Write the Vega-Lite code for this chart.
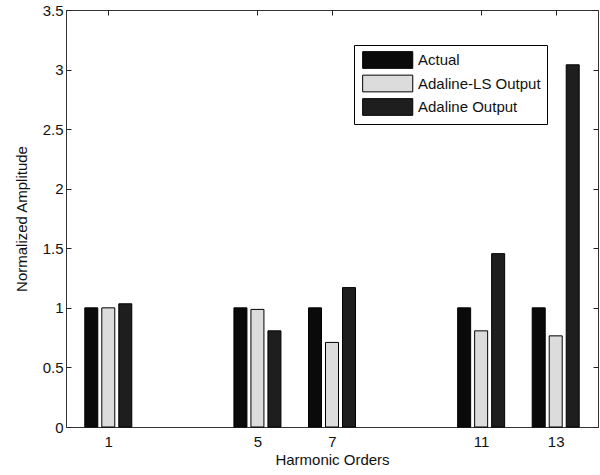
{
  "$schema": "https://vega.github.io/schema/vega-lite/v6.json",
  "width": 532,
  "height": 417,
  "autosize": "none",
  "padding": {"left": 66, "top": 10, "right": 2, "bottom": 48},
  "background": "white",
  "config": {
    "font": "Liberation Sans",
    "view": {"stroke": "#333", "strokeWidth": 1},
    "axis": {"grid": false, "domain": false, "tickColor": "#222", "tickSize": -5, "labelFont": "Liberation Sans", "labelFontSize": 15, "labelColor": "#111", "titleFont": "Liberation Sans", "titleFontSize": 15, "titleFontWeight": "normal", "titleColor": "#111"}
  },
  "data": {"values": [
    {"order": 1, "series": "Actual", "amp": 1.0},
    {"order": 5, "series": "Actual", "amp": 1.0},
    {"order": 7, "series": "Actual", "amp": 1.0},
    {"order": 11, "series": "Actual", "amp": 1.0},
    {"order": 13, "series": "Actual", "amp": 1.0},
    {"order": 1, "series": "Adaline-LS Output", "amp": 1.0},
    {"order": 5, "series": "Adaline-LS Output", "amp": 0.987},
    {"order": 7, "series": "Adaline-LS Output", "amp": 0.71},
    {"order": 11, "series": "Adaline-LS Output", "amp": 0.807},
    {"order": 13, "series": "Adaline-LS Output", "amp": 0.765},
    {"order": 1, "series": "Adaline Output", "amp": 1.034},
    {"order": 5, "series": "Adaline Output", "amp": 0.807},
    {"order": 7, "series": "Adaline Output", "amp": 1.17},
    {"order": 11, "series": "Adaline Output", "amp": 1.455},
    {"order": 13, "series": "Adaline Output", "amp": 3.04}
  ]},
  "layer": [
    {
      "transform": [{"filter": "datum.series == 'Actual'"}],
      "mark": {"type": "bar", "xOffset": -17, "width": 13, "stroke": "#000", "strokeWidth": 1},
      "encoding": {
        "x": {"field": "order", "type": "quantitative", "scale": {"domain": [0, 14], "nice": false, "zero": false},
              "axis": {"orient": "bottom", "values": [1, 5, 7, 11, 13], "title": "Harmonic Orders", "labelPadding": 12, "titlePadding": 3}},
        "y": {"field": "amp", "type": "quantitative", "scale": {"domain": [0, 3.5], "nice": false},
              "axis": {"orient": "left", "values": [0, 0.5, 1, 1.5, 2, 2.5, 3, 3.5], "format": "~g", "title": "Normalized Amplitude", "labelPadding": 8, "titlePadding": 13}},
        "fill": {"field": "series", "type": "nominal",
                 "scale": {"domain": ["Actual", "Adaline-LS Output", "Adaline Output"], "range": ["#0a0a0a", "#dcdcdc", "#1e1e1e"]},
                 "legend": {"title": null, "orient": "none", "legendX": 288, "legendY": 35,
                            "symbolType": "M-0.76,-1H5.24V1H-0.76Z", "symbolSize": 279, "symbolStrokeColor": "#000", "symbolStrokeWidth": 1,
                            "labelFont": "Liberation Sans", "labelFontSize": 15, "labelColor": "#111", "labelOffset": 40,
                            "strokeColor": "#000", "fillColor": "white", "padding": 6, "rowPadding": 1.5}}
      }
    },
    {
      "transform": [{"filter": "datum.series == 'Adaline-LS Output'"}],
      "mark": {"type": "bar", "xOffset": 0, "width": 13, "stroke": "#000", "strokeWidth": 1},
      "encoding": {
        "x": {"field": "order", "type": "quantitative", "axis": null},
        "y": {"field": "amp", "type": "quantitative", "axis": null},
        "fill": {"field": "series", "type": "nominal"}
      }
    },
    {
      "transform": [{"filter": "datum.series == 'Adaline Output'"}],
      "mark": {"type": "bar", "xOffset": 17, "width": 13, "stroke": "#000", "strokeWidth": 1},
      "encoding": {
        "x": {"field": "order", "type": "quantitative",
              "axis": {"orient": "top", "values": [1, 5, 7, 11, 13], "labels": false, "title": null}},
        "y": {"field": "amp", "type": "quantitative",
              "axis": {"orient": "right", "values": [0, 0.5, 1, 1.5, 2, 2.5, 3, 3.5], "labels": false, "title": null}},
        "fill": {"field": "series", "type": "nominal"}
      }
    }
  ],
  "resolve": {"axis": {"x": "independent", "y": "independent"}}
}
